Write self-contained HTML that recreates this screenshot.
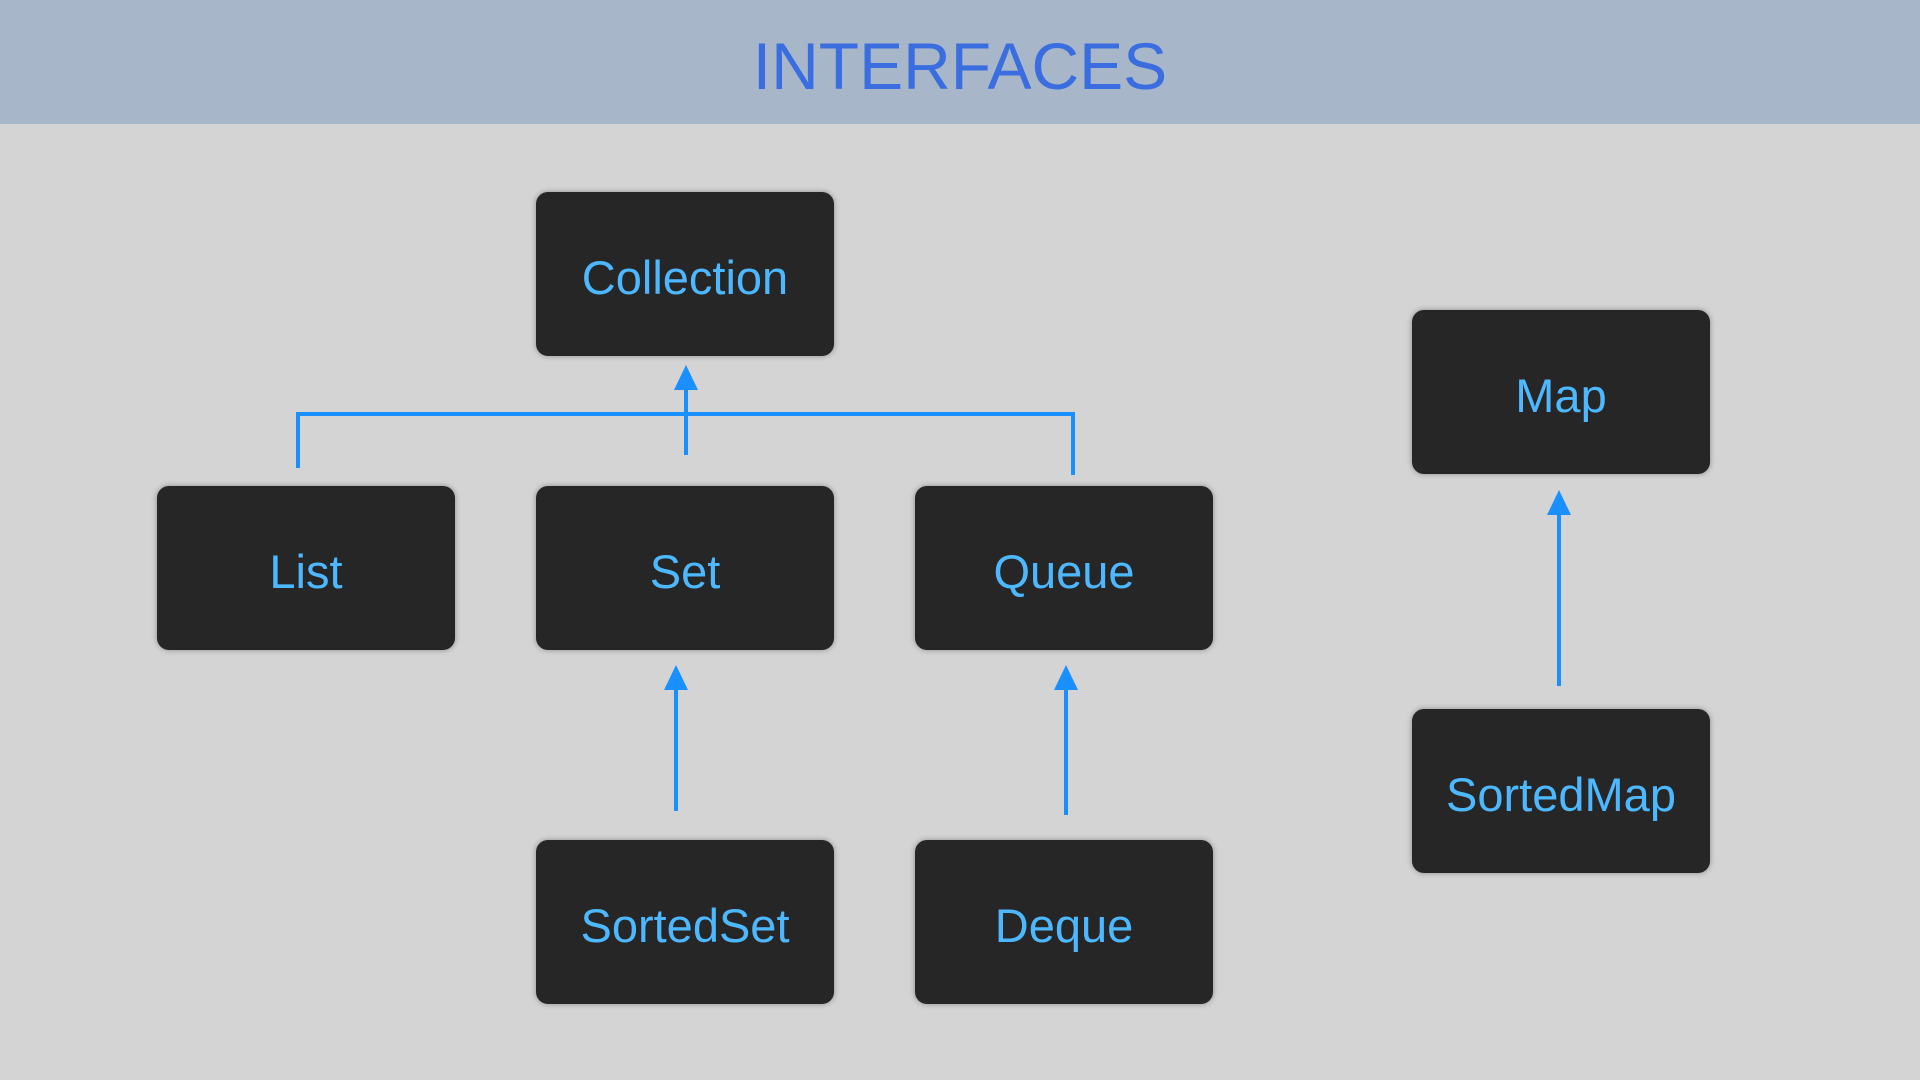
<!DOCTYPE html>
<html><head><meta charset="utf-8"><style>
body{margin:0;width:1920px;height:1080px;background:#d4d4d4;position:relative;overflow:hidden;font-family:"Liberation Sans","DejaVu Sans",sans-serif}
.hdr{position:absolute;left:0;top:0;width:1920px;height:124px;background:#a8b6ca;color:#3a6ee0;font-size:66px;text-align:center;line-height:132px}
.b{position:absolute;width:298px;height:164px;background:#262626;border-radius:12px;box-shadow:0 0 6px rgba(0,0,0,.35);color:#4db8ff;font-size:47px;display:flex;align-items:center;justify-content:center;box-sizing:border-box;padding-top:6px}
svg{position:absolute;left:0;top:0}
</style></head><body>
<div class="hdr">INTERFACES</div>
<div class="b" style="left:536px;top:192px">Collection</div>
<div class="b" style="left:157px;top:486px">List</div>
<div class="b" style="left:536px;top:486px">Set</div>
<div class="b" style="left:915px;top:486px">Queue</div>
<div class="b" style="left:536px;top:840px">SortedSet</div>
<div class="b" style="left:915px;top:840px">Deque</div>
<div class="b" style="left:1412px;top:310px">Map</div>
<div class="b" style="left:1412px;top:709px">SortedMap</div>
<svg width="1920" height="1080">
<g stroke="#1a8fff" stroke-width="4" fill="none">
<polyline points="298,468 298,414 1073,414 1073,475"/>
<line x1="686" y1="455" x2="686" y2="388"/>
<line x1="676" y1="811" x2="676" y2="688"/>
<line x1="1066" y1="815" x2="1066" y2="688"/>
<line x1="1559" y1="686" x2="1559" y2="513"/>
</g>
<g fill="#1a8fff">
<polygon points="686,365 674,390 698,390"/>
<polygon points="676,665 664,690 688,690"/>
<polygon points="1066,665 1054,690 1078,690"/>
<polygon points="1559,490 1547,515 1571,515"/>
</g>
</svg>
</body></html>
